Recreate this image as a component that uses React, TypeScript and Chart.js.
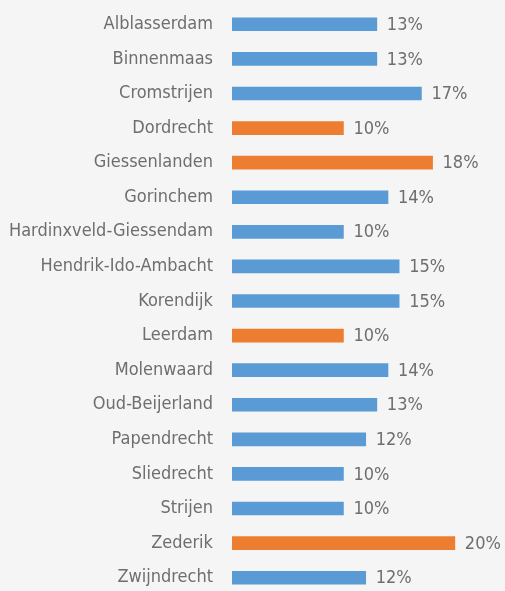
import React, { useEffect, useRef } from "react";
import { Chart, registerables } from "chart.js";

Chart.register(...registerables);

const categories = [
  "Alblasserdam",
  "Binnenmaas",
  "Cromstrijen",
  "Dordrecht",
  "Giessenlanden",
  "Gorinchem",
  "Hardinxveld-Giessendam",
  "Hendrik-Ido-Ambacht",
  "Korendijk",
  "Leerdam",
  "Molenwaard",
  "Oud-Beijerland",
  "Papendrecht",
  "Sliedrecht",
  "Strijen",
  "Zederik",
  "Zwijndrecht",
];

const values = [13, 13, 17, 10, 18, 14, 10, 15, 15, 10, 14, 13, 12, 10, 10, 20, 12];

const highlighted = ["Dordrecht", "Giessenlanden", "Leerdam", "Zederik"];

const FONT = "'DejaVu Sans Condensed', 'Liberation Sans Narrow', sans-serif";
const TEXT = "#6e6e6e";
const BLUE = "#5b9bd5";
const ORANGE = "#ed7d31";

const valueLabels = {
  id: "valueLabels",
  afterDatasetsDraw(chart: any) {
    const ctx = chart.ctx;
    const meta = chart.getDatasetMeta(0);
    ctx.save();
    ctx.font = `18px ${FONT}`;
    ctx.fillStyle = TEXT;
    ctx.textAlign = "left";
    ctx.textBaseline = "middle";
    meta.data.forEach((bar: any, i: number) => {
      ctx.fillText(`${values[i]}%`, bar.x + 10, bar.y + 1);
    });
    ctx.restore();
  },
};

export default function App() {
  const ref = useRef<HTMLCanvasElement | null>(null);

  useEffect(() => {
    document.body.style.margin = "0";
    document.body.style.background = "#f5f5f5";
    document.body.style.overflow = "hidden";
    const canvas = ref.current;
    if (!canvas) return;
    const chart = new Chart(canvas, {
      type: "bar",
      data: {
        labels: categories,
        datasets: [
          {
            data: values,
            backgroundColor: categories.map((c) => (highlighted.includes(c) ? ORANGE : BLUE)),
            barThickness: 13,
            borderWidth: 0,
          },
        ],
      },
      options: {
        indexAxis: "y",
        responsive: false,
        animation: false,
        maintainAspectRatio: false,
        layout: { padding: { top: 7, bottom: 5, left: 0, right: 0 } },
        plugins: {
          legend: { display: false },
          tooltip: { enabled: false },
        },
        scales: {
          x: {
            display: false,
            min: 0,
            max: 24.5,
          },
          y: {
            grid: { display: false, drawTicks: false },
            border: { display: false },
            ticks: {
              color: TEXT,
              padding: 19,
              font: { family: FONT, size: 18 },
            },
            afterFit(scale: any) {
              scale.width = 232;
              scale.paddingTop = 0;
              scale.paddingBottom = 0;
            },
          },
        },
      },
      plugins: [valueLabels],
    });
    return () => chart.destroy();
  }, []);

  return (
    <div style={{ width: 505, height: 591, background: "#f5f5f5", overflow: "hidden" }}>
      <canvas ref={ref} width={505} height={600} style={{ display: "block" }} />
    </div>
  );
}
